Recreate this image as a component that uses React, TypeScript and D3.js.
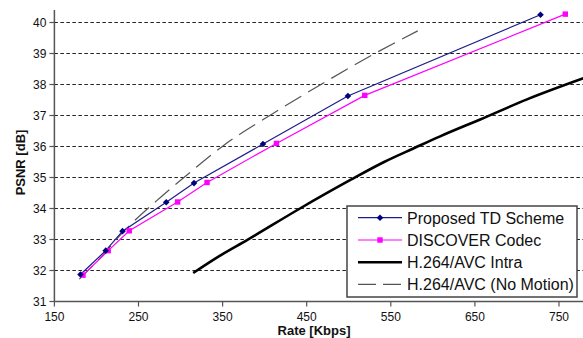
import React from "react";
import * as d3 from "d3";

const W = 583;
const H = 338;

const xTicks = [150, 250, 350, 450, 550, 650, 750];
const yTicks = [31, 32, 33, 34, 35, 36, 37, 38, 39, 40];

const tdRate = [181, 211, 231, 283, 316, 398, 499, 728];
const tdPsnr = [31.87, 32.64, 33.27, 34.2, 34.82, 36.08, 37.63, 40.25];

const discRate = [184, 214, 239, 296.5, 331.5, 414, 519, 757.5];
const discPsnr = [31.85, 32.64, 33.28, 34.21, 34.84, 36.1, 37.65, 40.27];

const intraRate = [315, 347, 379, 442, 502, 542, 578, 608, 657, 712, 779];
const intraPsnr = [31.92, 32.48, 32.98, 34.0, 34.92, 35.5, 35.95, 36.32, 36.88, 37.52, 38.2];

const nmRate = [179.6, 205, 231, 277, 312, 350, 409.5, 470, 531, 582];
const nmPsnr = [31.72, 32.42, 33.22, 34.38, 35.18, 36.01, 37.06, 38.05, 39.0, 39.73];

const legendLabels = [
  "Proposed TD Scheme",
  "DISCOVER Codec",
  "H.264/AVC Intra",
  "H.264/AVC (No Motion)",
];

const FONT = "'Liberation Sans', Arial, sans-serif";

export default function App() {
  const x = d3.scaleLinear().domain([150, 780]).range([54.4, 54.4 + 630 * 0.841]);
  const y = d3.scaleLinear().domain([31, 40]).range([301.5, 22.5]);
  const yTop = y(40.4);

  const zip = (a: number[], b: number[]) => a.map((v, i) => [v, b[i]] as [number, number]);
  const line = d3
    .line<[number, number]>()
    .x((d) => x(d[0]))
    .y((d) => y(d[1]));
  const smooth = d3
    .line<[number, number]>()
    .x((d) => x(d[0]))
    .y((d) => y(d[1]))
    .curve(d3.curveMonotoneX);

  const td = zip(tdRate, tdPsnr);
  const disc = zip(discRate, discPsnr);
  const intra = zip(intraRate, intraPsnr);
  const nm = zip(nmRate, nmPsnr);

  const diamond = (cx: number, cy: number, r: number) =>
    `M${cx},${cy - r}L${cx + r},${cy}L${cx},${cy + r}L${cx - r},${cy}Z`;

  const x0 = x(150);
  const xEnd = W;

  const legX = 347;
  const legY = 206;
  const legW = 230;
  const legH = 91;
  const rowY = [217.7, 240, 262.3, 284.3];

  return (
    <div style={{ position: "fixed", left: 0, top: 0 }}>
      <svg width={W} height={H} style={{ display: "block", background: "#fff" }}>
        {/* gridlines */}
        {yTicks
          .filter((t) => t !== 31)
          .map((t) => (
            <line
              key={"g" + t}
              x1={x0}
              x2={xEnd}
              y1={y(t)}
              y2={y(t)}
              stroke="#222"
              strokeWidth={1}
              strokeDasharray="3.5,2.5"
            />
          ))}

        {/* axes */}
        <line x1={x0} x2={x0} y1={yTop} y2={y(31)} stroke="#555" strokeWidth={1.5} />
        <line x1={x0} x2={xEnd} y1={y(31)} y2={y(31)} stroke="#555" strokeWidth={1.5} />
        {yTicks.map((t) => (
          <g key={"yt" + t}>
            <line x1={x0 - 5} x2={x0} y1={y(t)} y2={y(t)} stroke="#555" strokeWidth={1.2} />
            <text
              x={x0 - 8}
              y={y(t)}
              dy="0.36em"
              textAnchor="end"
              fontFamily={FONT}
              fontSize={12}
              fill="#111"
            >
              {t}
            </text>
          </g>
        ))}
        {xTicks.map((t) => (
          <g key={"xt" + t}>
            <line x1={x(t)} x2={x(t)} y1={y(31)} y2={y(31) + 5} stroke="#555" strokeWidth={1.2} />
            <text
              x={x(t)}
              y={320.5}
              textAnchor="middle"
              fontFamily={FONT}
              fontSize={12}
              fill="#111"
            >
              {t}
            </text>
          </g>
        ))}
        <text
          x={314}
          y={334.5}
          textAnchor="middle"
          fontFamily={FONT}
          fontSize={13}
          fontWeight="bold"
          fill="#111"
        >
          Rate [Kbps]
        </text>
        <text
          transform={`translate(25,162.5) rotate(-90)`}
          textAnchor="middle"
          fontFamily={FONT}
          fontSize={13}
          fontWeight="bold"
          fill="#111"
        >
          PSNR [dB]
        </text>

        {/* series */}
        <path d={smooth(nm) || ""} fill="none" stroke="#555" strokeWidth={1.2} strokeDasharray="19,8" />
        <path d={smooth(intra) || ""} fill="none" stroke="#000" strokeWidth={2.6} />
        <path d={line(disc) || ""} fill="none" stroke="#ff00ff" strokeWidth={1.2} />
        <path d={line(td) || ""} fill="none" stroke="#1c1c8a" strokeWidth={1.2} />
        {disc.map((d, i) => (
          <rect
            key={"dm" + i}
            x={x(d[0]) - 2.7}
            y={y(d[1]) - 2.7}
            width={5.4}
            height={5.4}
            fill="#ff00ff"
          />
        ))}
        {td.map((d, i) => (
          <path key={"tm" + i} d={diamond(x(d[0]), y(d[1]), 3.3)} fill="#000080" />
        ))}

        {/* legend */}
        <rect
          x={legX}
          y={legY}
          width={legW}
          height={legH}
          fill="#fff"
          stroke="#444"
          strokeWidth={1.5}
        />
        {legendLabels.map((lab, i) => {
          const cy = rowY[i];
          return (
            <g key={"l" + i}>
              {i === 0 && (
                <>
                  <line x1={358} x2={402} y1={cy} y2={cy} stroke="#1c1c8a" strokeWidth={1.2} />
                  <path d={diamond(380, cy, 3.3)} fill="#000080" />
                </>
              )}
              {i === 1 && (
                <>
                  <line x1={358} x2={402} y1={cy} y2={cy} stroke="#ff00ff" strokeWidth={1.2} />
                  <rect x={380 - 2.7} y={cy - 2.7} width={5.4} height={5.4} fill="#ff00ff" />
                </>
              )}
              {i === 2 && (
                <line x1={358} x2={402} y1={cy} y2={cy} stroke="#000" strokeWidth={2.6} />
              )}
              {i === 3 && (
                <line
                  x1={358}
                  x2={402}
                  y1={cy}
                  y2={cy}
                  stroke="#555"
                  strokeWidth={1.2}
                  strokeDasharray="18,7"
                />
              )}
              <text
                x={407}
                y={cy + 5.8}
                fontFamily={FONT}
                fontSize={16}
                fill="#111"
              >
                {lab}
              </text>
            </g>
          );
        })}
      </svg>
    </div>
  );
}
